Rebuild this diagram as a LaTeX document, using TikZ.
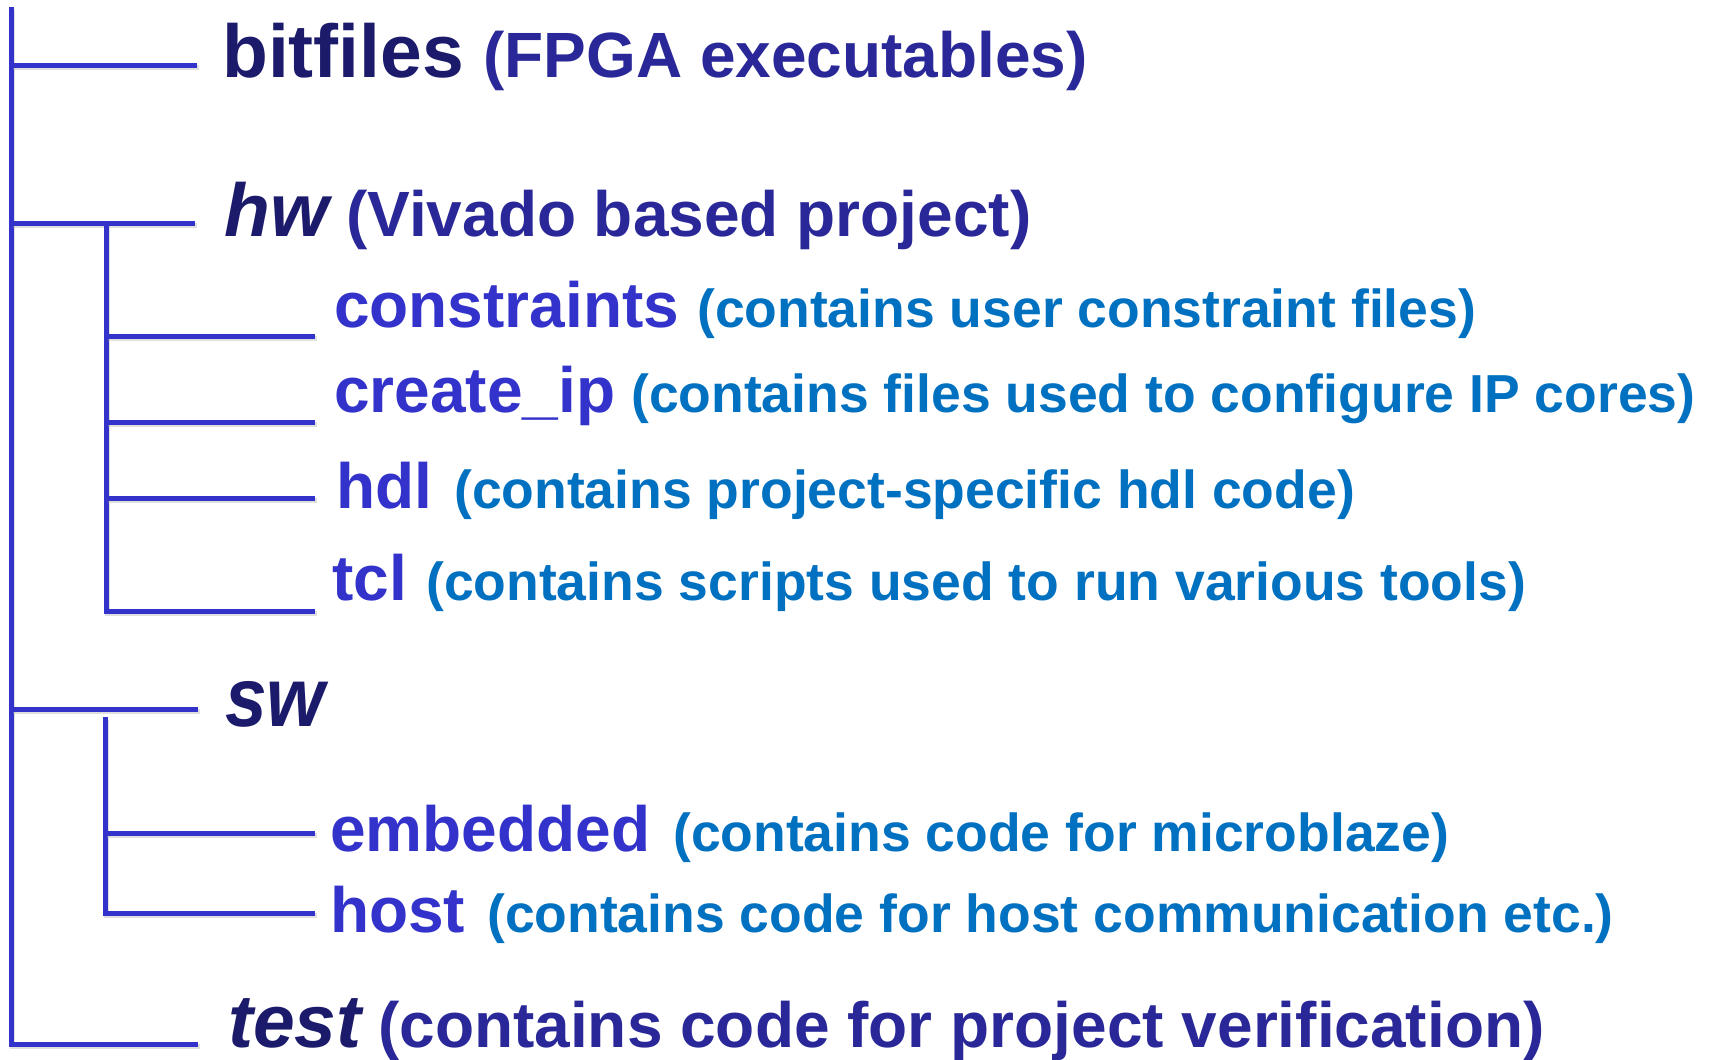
\documentclass[tikz,border=0pt]{standalone}
\usepackage{fontspec}
\setmainfont{Liberation Sans}
\definecolor{treeblue}{HTML}{3333CC}
\definecolor{topname}{HTML}{1C1A6B}
\definecolor{topdesc}{HTML}{2A2898}
\definecolor{subname}{HTML}{3333CC}
\definecolor{subdesc}{HTML}{0070C0}
\begin{document}
\begin{tikzpicture}[x=1pt,y=-1pt,
  lbl/.style={inner sep=0pt, anchor=base west},
  topitem/.style={lbl, text=topname, font=\fontsize{75}{80}\selectfont\bfseries},
  topitemit/.style={lbl, text=topname, font=\fontsize{75}{80}\selectfont\bfseries\itshape},
  topnote/.style={lbl, text=topdesc, font=\fontsize{64}{70}\selectfont\bfseries},
  subitem/.style={lbl, text=subname, font=\fontsize{64}{70}\selectfont\bfseries},
  subnote/.style={lbl, text=subdesc, font=\fontsize{53.5}{60}\selectfont\bfseries},
  tree/.style={draw=treeblue, line width=5pt, line join=miter,
    preaction={draw=black!35, opacity=0.35, line width=5pt,
      transform canvas={xshift=1.5pt,yshift=-2.5pt}}}]
\useasboundingbox[fill=white] (0,0) rectangle (1709,1060);

% branch points of the tree
\coordinate (root)  at (11,7);
\coordinate (jbit)  at (11,65);
\coordinate (ebit)  at (197,65);
\coordinate (jhw)   at (11,223);
\coordinate (ehw)   at (195,223);
\coordinate (jsw)   at (11,709);
\coordinate (esw)   at (198,709);
\coordinate (jtest) at (11,1044);
\coordinate (etest) at (198,1044);

\coordinate (hwtop)  at (106,223);
\coordinate (jcon)   at (106,336);
\coordinate (econ)   at (315,336);
\coordinate (jip)    at (106,422);
\coordinate (eip)    at (315,422);
\coordinate (jhdl)   at (106,498);
\coordinate (ehdl)   at (315,498);
\coordinate (jtcl)   at (106,611);
\coordinate (etcl)   at (315,611);

\coordinate (swtop)  at (105,717);
\coordinate (jemb)   at (105,833);
\coordinate (eemb)   at (315,833);
\coordinate (jhost)  at (105,913);
\coordinate (ehost)  at (315,913);

% top level
\draw[tree] (root) -- (jtest) -- (etest);
\draw[tree] (jbit) -- (ebit);
\draw[tree] (jhw) -- (ehw);
\draw[tree] (jsw) -- (esw);

% hw subtree
\draw[tree] (hwtop) -- (jtcl) -- (etcl);
\draw[tree] (jcon) -- (econ);
\draw[tree] (jip) -- (eip);
\draw[tree] (jhdl) -- (ehdl);

% sw subtree
\draw[tree] (swtop) -- (jhost) -- (ehost);
\draw[tree] (jemb) -- (eemb);

% labels
\node[topitem] (bit) at (222,77) {bitfiles};
\node[topnote] (bitd) at (483,77) {(FPGA executables)};
\node[topitemit] (hw) at (224,236) {hw};
\node[topnote] (hwd) at (346,236) {(Vivado based project)};
\node[subitem] (con) at (334,327) {constraints};
\node[subnote] (cond) at (697,327) {(contains user constraint files)};
\node[subitem] (ip) at (334,412) {create\_ip};
\node[subnote] (ipd) at (631,412) {(contains files used to configure IP cores)};
\node[subitem] (hdl) at (336,508) {hdl};
\node[subnote] (hdld) at (454,508) {(contains project-specific hdl code)};
\node[subitem] (tcl) at (332,600) {tcl};
\node[subnote] (tcld) at (426,600) {(contains scripts used to run various tools)};
\node[topitemit] (sw) at (225,726) {\scalebox{1}[1.12]{sw}};
\node[subitem] (emb) at (330,851) {embedded};
\node[subnote] (embd) at (673,851) {(contains code for microblaze)};
\node[subitem] (host) at (330,932) {host};
\node[subnote] (hostd) at (487,932) {(contains code for host communication etc.)};
\node[topitemit] (test) at (228,1047) {test};
\node[topnote] (testd) at (378,1047) {(contains code for project verification)};
\end{tikzpicture}
\end{document}
